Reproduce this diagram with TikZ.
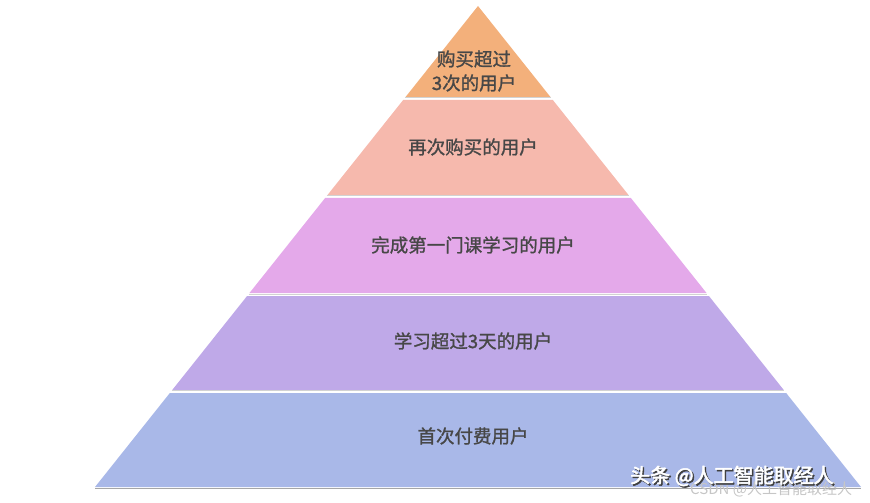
\documentclass[tikz,border=0pt]{standalone}
\usepackage{fontspec}
\newfontfamily\cjk{Noto Sans CJK SC}
\newfontfamily\cjkbold[FakeBold=1.2]{Noto Sans CJK SC}
\newfontfamily\cjkheavy[FakeBold=2.5]{Noto Sans CJK SC}
\usetikzlibrary{calc}

\definecolor{layerA}{HTML}{F3B07B}
\definecolor{layerB}{HTML}{F6B9AD}
\definecolor{layerC}{HTML}{E4A9EA}
\definecolor{layerD}{HTML}{BFA9E8}
\definecolor{layerE}{HTML}{A9B8E8}
\definecolor{labelgray}{HTML}{474747}

\begin{document}
\begin{tikzpicture}[
    x=1pt,
    y=-1pt,
    line join=round,
    label text/.style={font=\cjkbold\fontsize{18.5}{24}\selectfont, text=labelgray, align=center, inner sep=0pt},
    shadow line/.style={gray!35, line width=1pt},
    mark text/.style={font=\cjkheavy\fontsize{20}{24}\selectfont, inner sep=0pt}
]

\useasboundingbox (0,0) rectangle (870,503);

% -------------------------------------------------
% Pyramid outline
% -------------------------------------------------

\coordinate (apex) at (478,6);
\coordinate (BL) at (95,487);
\coordinate (BR) at (861,487);

% -------------------------------------------------
% Layers, top to bottom
% -------------------------------------------------

% Buy more than 3 times
\fill[layerA]
    (apex) -- ($(apex)!0.189!(BR)$) -- ($(apex)!0.189!(BL)$) -- cycle;
\draw[shadow line]
    ($(apex)!0.191!(BL)$) -- ($(apex)!0.191!(BR)$);

% Buy again
\fill[layerB]
    ($(apex)!0.195!(BL)$) -- ($(apex)!0.195!(BR)$)
    -- ($(apex)!0.393!(BR)$) -- ($(apex)!0.393!(BL)$) -- cycle;
\draw[shadow line]
    ($(apex)!0.395!(BL)$) -- ($(apex)!0.395!(BR)$);

% First course finished
\fill[layerC]
    ($(apex)!0.399!(BL)$) -- ($(apex)!0.399!(BR)$)
    -- ($(apex)!0.597!(BR)$) -- ($(apex)!0.597!(BL)$) -- cycle;
\draw[shadow line]
    ($(apex)!0.599!(BL)$) -- ($(apex)!0.599!(BR)$);

% Studied more than 3 days
\fill[layerD]
    ($(apex)!0.603!(BL)$) -- ($(apex)!0.603!(BR)$)
    -- ($(apex)!0.798!(BR)$) -- ($(apex)!0.798!(BL)$) -- cycle;
\draw[shadow line]
    ($(apex)!0.800!(BL)$) -- ($(apex)!0.800!(BR)$);

% First payment
\fill[layerE]
    ($(apex)!0.805!(BL)$) -- ($(apex)!0.805!(BR)$)
    -- (BR) -- (BL) -- cycle;
\draw[gray!70, line width=1.5pt]
    ($(BL)+(0,1.5)$) -- ($(BR)+(0,1.5)$);

% -------------------------------------------------
% Labels
% -------------------------------------------------

\node[label text] (buythree) at (474,71) {购买超过\\3次的用户};
\node[label text] (buyagain) at (473,147) {再次购买的用户};
\node[label text] (course) at (473,245) {完成第一门课学习的用户};
\node[label text] (study) at (473,341) {学习超过3天的用户};
\node[label text] (paid) at (473,436) {首次付费用户};

% -------------------------------------------------
% Watermarks
% -------------------------------------------------

\node[mark text, text=gray!45, font=\cjk\fontsize{15}{18}\selectfont, anchor=west]
    (csdn) at (690,489) {CSDN @人工智能取经人};
\node[mark text, text=black!75, anchor=west] (toutiaoshadow) at (631.5,477.5) {头条 @人工智能取经人};
\node[mark text, text=white, anchor=west] (toutiao) at (630,476) {头条 @人工智能取经人};

\end{tikzpicture}
\end{document}
